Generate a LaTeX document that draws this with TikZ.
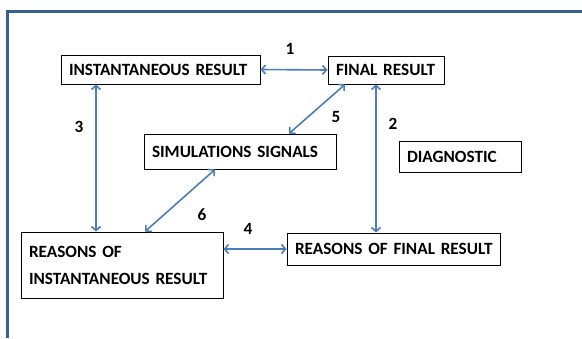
\documentclass[tikz,border=0pt]{standalone}
\usepackage{fontspec}
\setmainfont{Carlito}[BoldFont={Carlito Bold}]
\usetikzlibrary{arrows.meta}
\definecolor{arrblue}{HTML}{4A7EBB}
\definecolor{frameblue}{HTML}{3A5F8F}
\tikzset{
  box/.style={draw=black, line width=0.9pt, rectangle, inner xsep=8pt, inner ysep=0pt, align=left, anchor=center,
    font=\fontsize{17.2}{27}\selectfont\bfseries},
  arr/.style={draw=arrblue, line width=1.6pt, {Straight Barb[length=4pt,width=9pt]}-{Straight Barb[length=4pt,width=9pt]}},
  lab/.style={font=\fontsize{17.2}{19}\selectfont\bfseries, inner sep=0pt}
}
\begin{document}
\begin{tikzpicture}[x=1pt,y=-1pt]
\useasboundingbox (0,0) rectangle (582,338);
\draw[frameblue, line width=2.2pt] (7.5,338) -- (7.5,11.5) -- (582,11.5);
\node[box, minimum width=199pt, minimum height=29pt, text width=183pt] (IR) at (160.5,69.5) {\mbox{INSTANTANEOUS RESULT}};
\node[box, minimum width=116pt, minimum height=28pt, text width=100pt] (FR) at (386,70) {\mbox{FINAL RESULT}};
\node[box, minimum width=192pt, minimum height=35pt, text width=176pt] (SS) at (240,151.5) {\mbox{SIMULATIONS SIGNALS}};
\node[box, minimum width=122pt, minimum height=31pt, text width=106pt] (DG) at (460,156.5) {\mbox{DIAGNOSTIC}};
\node[box, minimum width=202pt, minimum height=66pt, text width=186pt] (RIR) at (122,265) {\mbox{REASONS OF}\\\mbox{INSTANTANEOUS RESULT}};
\node[box, minimum width=213pt, minimum height=32pt, text width=197pt] (RFR) at (393.5,249) {\mbox{REASONS OF FINAL RESULT}};
\draw[arr] (IR.east) -- (FR.west);
\draw[arr] ([xshift=-64.5pt]IR.south) -- ([xshift=-26pt]RIR.north);
\draw[arr] ([xshift=-10pt]FR.south) -- ([xshift=-17.5pt]RFR.north);
\draw[arr] ([xshift=-41pt]FR.south) -- ([xshift=49pt]SS.north);
\draw[arr] ([xshift=23pt]RIR.north) -- ([xshift=-25pt]SS.south);
\draw[arr] ([yshift=16pt]RIR.east) -- (RFR.west);
\node[lab] (l1) at (290,49) {1};
\node[lab] (l3) at (79,127) {3};
\node[lab] (l2) at (393,124) {2};
\node[lab] (l5) at (336,117) {5};
\node[lab] (l6) at (202,215) {6};
\node[lab] (l4) at (248,229) {4};
\end{tikzpicture}
\end{document}
